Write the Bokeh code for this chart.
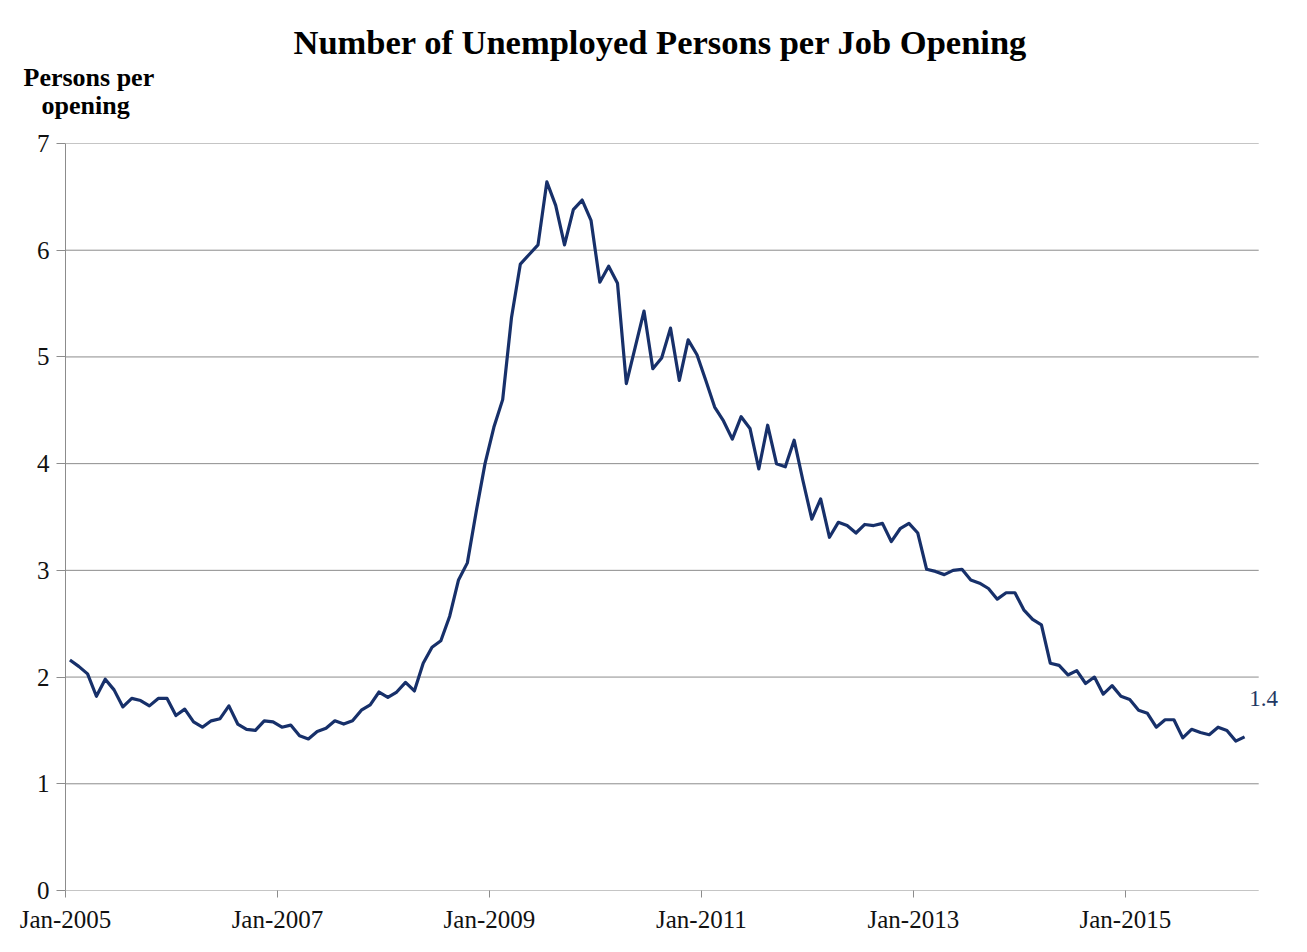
from bokeh.plotting import figure
from bokeh.models import Label, FixedTicker, Range1d, Title
from bokeh.embed import file_html
from bokeh.resources import INLINE
import numpy as np

# Monthly data, Jan-2005 .. Feb-2016
values = [
    2.16, 2.10, 2.03, 1.82, 1.98, 1.88, 1.72, 1.80, 1.78, 1.73, 1.80, 1.80,   # 2005
    1.64, 1.70, 1.58, 1.53, 1.59, 1.61, 1.73, 1.56, 1.51, 1.50, 1.59, 1.58,   # 2006
    1.53, 1.55, 1.45, 1.42, 1.49, 1.52, 1.59, 1.56, 1.59, 1.69, 1.74, 1.86,   # 2007
    1.81, 1.86, 1.95, 1.87, 2.13, 2.28, 2.34, 2.57, 2.91, 3.07, 3.55, 4.00,   # 2008
    4.34, 4.60, 5.37, 5.87, 5.96, 6.05, 6.64, 6.42, 6.05, 6.38, 6.47, 6.28,   # 2009
    5.70, 5.85, 5.69, 4.75, 5.09, 5.43, 4.89, 4.99, 5.27, 4.78, 5.16, 5.02,   # 2010
    4.78, 4.53, 4.40, 4.23, 4.44, 4.33, 3.95, 4.36, 4.00, 3.97, 4.22, 3.84,   # 2011
    3.48, 3.67, 3.31, 3.45, 3.42, 3.35, 3.43, 3.42, 3.44, 3.27, 3.39, 3.44,   # 2012
    3.35, 3.01, 2.99, 2.96, 3.00, 3.01, 2.91, 2.88, 2.83, 2.73, 2.79, 2.79,   # 2013
    2.63, 2.54, 2.49, 2.13, 2.11, 2.02, 2.06, 1.94, 2.00, 1.84, 1.92, 1.82,   # 2014
    1.79, 1.69, 1.66, 1.53, 1.60, 1.60, 1.43, 1.51, 1.48, 1.46, 1.53, 1.50,   # 2015
    1.40, 1.44,                                                               # 2016
]
tick_months = [0, 24, 48, 72, 96, 120]
tick_labels = ["Jan-2005", "Jan-2007", "Jan-2009", "Jan-2011", "Jan-2013", "Jan-2015"]
y_ticks = [0, 1, 2, 3, 4, 5, 6, 7]
axis_end_month = 135.1          # right end of the plotting area (months from Jan-2005)
title_text = "Number of Unemployed Persons per Job Opening"
ylabel_lines = ["Persons per", "opening"]
end_label = "1.4"

# month positions: each point centred in its month
x = np.arange(len(values)) + 0.5

SERIF = "Liberation Serif"
LINE_COLOR = "#17306A"
GRID = "#8C8C8C"

p = figure(width=1299, height=944, output_backend="svg", toolbar_location=None,
           x_range=Range1d(0, 138.7), y_range=Range1d(0, 7), title=None,
           min_border_left=65, min_border_right=9, min_border_top=143, min_border_bottom=54)
p.background_fill_color = "white"
p.border_fill_color = "white"
p.outline_line_color = None

# horizontal grid lines + x axis line, limited to the plotting area
p.segment(x0=[0] * len(y_ticks), x1=[axis_end_month] * len(y_ticks), y0=y_ticks, y1=y_ticks,
          line_color=GRID, line_width=1)

p.line(x, values, line_color=LINE_COLOR, line_width=3.2, line_join="round")

# axes
p.xaxis.ticker = FixedTicker(ticks=tick_months)
p.xaxis.major_label_overrides = {m: l for m, l in zip(tick_months, tick_labels)}
p.yaxis.ticker = FixedTicker(ticks=y_ticks)
for ax in (p.xaxis[0], p.yaxis[0]):
    ax.axis_line_color = GRID
    ax.axis_line_width = 1
    ax.major_tick_line_color = GRID
    ax.major_tick_in = 0
    ax.minor_tick_line_color = None
    ax.major_label_text_font = SERIF
    ax.major_label_text_font_size = "25px"
    ax.major_label_text_color = "#111111"
p.xaxis.axis_line_color = None
p.yaxis.major_tick_out = 9
p.yaxis.major_label_standoff = 7
p.xaxis.major_tick_out = 7
p.xaxis.major_label_standoff = 8
p.xgrid.grid_line_color = None
p.ygrid.grid_line_color = None

# titles (added inner to outer); first one is only a spacer above the frame
p.add_layout(Title(text=" ", text_font=SERIF, text_font_size="1px", standoff=22,
                   align="left"), "above")
p.add_layout(Title(text=ylabel_lines[1], text_font=SERIF, text_font_style="bold",
                   text_font_size="26px", align="left", offset=-24, standoff=-3,
                   text_color="black"), "above")
p.add_layout(Title(text=ylabel_lines[0], text_font=SERIF, text_font_style="bold",
                   text_font_size="26px", align="left", offset=-42, standoff=-3,
                   text_color="black"), "above")
p.add_layout(Title(text=title_text, text_font=SERIF, text_font_style="bold",
                   text_font_size="34.5px", align="left", offset=228, standoff=3,
                   text_color="black"), "above")

p.add_layout(Label(x=x[-1], y=values[-1], x_offset=19, y_offset=38, text=end_label,
                   text_font=SERIF, text_font_size="23px", text_align="center",
                   text_baseline="middle", text_color="#1F3864"))

open("out.html", "w").write(file_html(p, INLINE))
